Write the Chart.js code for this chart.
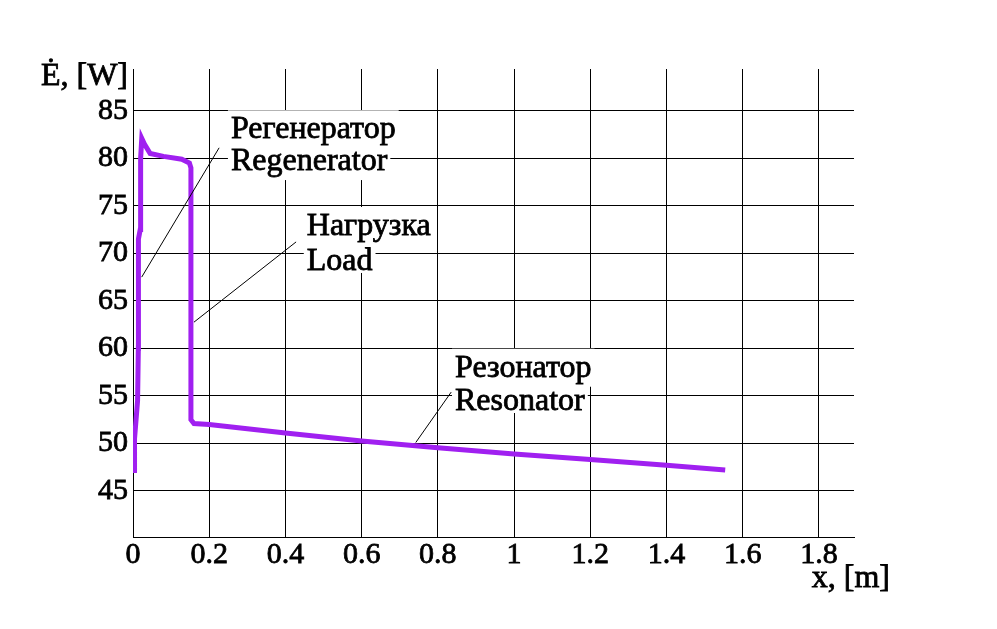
<!DOCTYPE html>
<html><head><meta charset="utf-8">
<script src="https://cdn.jsdelivr.net/npm/chart.js@4"></script>
<style>html,body{margin:0;padding:0;background:#fff;} canvas{display:block;}</style>
</head><body>
<canvas id="c" width="997" height="629"></canvas>
<script>
// ---- data (x in m, Ė in W) ----
const xValues = [0.004, 0.004, 0.012, 0.014, 0.014, 0.0145, 0.019, 0.020, 0.023, 0.030, 0.045, 0.080, 0.128, 0.148, 0.152, 0.152, 0.160, 0.200, 0.400, 0.600, 0.800, 1.000, 1.200, 1.400, 1.554];
const eValues = [46.9, 50.5, 54.5, 60.0, 65.0, 71.5, 72.5, 80.0, 82.1, 81.5, 80.5, 80.2, 79.9, 79.5, 79.0, 52.5, 52.1, 52.0, 51.1, 50.25, 49.55, 48.9, 48.3, 47.7, 47.2];
const xTickValues = [0, 0.2, 0.4, 0.6, 0.8, 1, 1.2, 1.4, 1.6, 1.8];
const yTickValues = [45, 50, 55, 60, 65, 70, 75, 80, 85];
const yAxisTitle = "Ė, [W]";
const xAxisTitle = "x, [m]";
const labelTexts = [["Регенератор", "Regenerator"], ["Нагрузка", "Load"], ["Резонатор", "Resonator"]];
const labelLeftX = [0.257, 0.456, 0.845];
const labelBaselines = [[82.1, 78.76], [71.93, 68.25], [57.02, 53.52]];
const leaderFrom = [[0.0228, 67.5], [0.160, 62.76], [0.742, 50.1]];
const leaderTo = [[0.226, 81.1], [0.428, 71.2], [0.835, 55.4]];

const FONT = '"Liberation Serif", "Times New Roman", serif';
const points = xValues.map((v, i) => ({x: v, y: eValues[i]}));

function boldText(ctx, t, x, y) {
  ctx.fillText(t, x, y);
  ctx.strokeText(t, x, y);
}

const annot = {
  id: 'annot',
  afterDraw(chart) {
    const {ctx, scales: {x, y}, chartArea} = chart;
    ctx.save();
    ctx.font = '32px ' + FONT;
    // white boxes, one per text line
    labelTexts.forEach((lines, i) => {
      const left = x.getPixelForValue(labelLeftX[i]);
      lines.forEach((t, j) => {
        const b = y.getPixelForValue(labelBaselines[i][j]);
        const m = ctx.measureText(t);
        const desc = Math.max(0, m.actualBoundingBoxDescent || 0);
        ctx.fillStyle = '#fff';
        ctx.fillRect(left - 3, b - 28, m.width + 6, 28 + desc + 3);
      });
    });
    // leader lines
    ctx.strokeStyle = '#000';
    ctx.lineWidth = 1;
    leaderFrom.forEach((f, i) => {
      ctx.beginPath();
      ctx.moveTo(x.getPixelForValue(f[0]), y.getPixelForValue(f[1]));
      ctx.lineTo(x.getPixelForValue(leaderTo[i][0]), y.getPixelForValue(leaderTo[i][1]));
      ctx.stroke();
    });
    // texts
    ctx.fillStyle = '#000';
    ctx.strokeStyle = '#000';
    ctx.lineWidth = 0.8;
    ctx.textBaseline = 'alphabetic';
    ctx.textAlign = 'left';
    labelTexts.forEach((lines, i) => {
      const left = x.getPixelForValue(labelLeftX[i]);
      lines.forEach((t, j) => boldText(ctx, t, left, y.getPixelForValue(labelBaselines[i][j])));
    });
    // axis titles
    ctx.textAlign = 'right';
    boldText(ctx, yAxisTitle, chartArea.left - 5, chartArea.top + 16);
    boldText(ctx, xAxisTitle, chartArea.right + 36, chartArea.bottom + 50);
    ctx.restore();
  }
};

new Chart(document.getElementById('c'), {
  type: 'line',
  data: {
    datasets: [{
      data: points,
      borderColor: '#A020F0',
      backgroundColor: '#A020F0',
      borderWidth: 5,
      pointRadius: 0,
      tension: 0,
      fill: false
    }]
  },
  options: {
    responsive: false,
    animation: false,
    devicePixelRatio: 1,
    layout: {padding: {left: 0, top: 69, right: 143, bottom: 0}},
    plugins: {legend: {display: false}, tooltip: {enabled: false}},
    scales: {
      x: {
        type: 'linear',
        min: 0, max: 1.892,
        afterBuildTicks: s => { s.ticks = xTickValues.map(v => ({value: v})); },
        afterFit: s => { s.height = 92; },
        grid: {color: '#000', lineWidth: 1, drawTicks: false},
        border: {display: true, color: '#000', width: 1},
        ticks: {
          autoSkip: false, maxRotation: 0, padding: 0, color: '#000',
          textStrokeColor: '#000', textStrokeWidth: 0.8,
          font: {family: FONT, size: 30},
          callback: v => String(v)
        }
      },
      y: {
        type: 'linear',
        min: 40.16, max: 89.39,
        afterBuildTicks: s => { s.ticks = yTickValues.map(v => ({value: v})); },
        afterFit: s => { s.width = 133; },
        grid: {color: '#000', lineWidth: 1, drawTicks: false},
        border: {display: true, color: '#000', width: 1},
        ticks: {
          autoSkip: false, padding: 5, color: '#000',
          textStrokeColor: '#000', textStrokeWidth: 0.8,
          font: {family: FONT, size: 30},
          callback: v => String(v)
        }
      }
    }
  },
  plugins: [annot]
});
</script>
</body></html>
